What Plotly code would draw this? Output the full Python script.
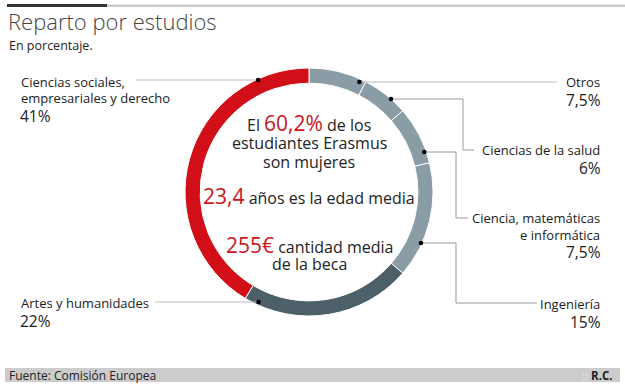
import math
import plotly.graph_objects as go

# ---- data ----
categories = ["Otros", "Ciencias de la salud", "Ciencia, matemáticas e informática",
              "Ingeniería", "Artes y humanidades", "Ciencias sociales, empresariales y derecho"]
values = [7.5, 6, 7.5, 15, 22, 41]
value_labels = ["7,5%", "6%", "7,5%", "15%", "22%", "41%"]
slice_colors = ["#8a9ca6", "#8a9ca6", "#8a9ca6", "#8a9ca6", "#4d5f69", "#d20f18"]

title = "Reparto por estudios"
subtitle = "En porcentaje."
source = "Fuente: Comisión Europea"
author = "R.C."

W, H = 625, 388
CX, CY, R = 309, 192, 124
HOLE = 0.878
FONT = "Open Sans"
RED = "#c8161d"
TXT = "#222222"

fig = go.Figure()
fig.add_trace(go.Pie(
    labels=categories, values=values, sort=False, direction="clockwise", rotation=0,
    hole=HOLE, textinfo="none", hoverinfo="label+percent",
    marker=dict(colors=slice_colors, line=dict(color="white", width=1)),
    domain=dict(x=[(CX - R) / W, (CX + R) / W], y=[(H - CY - R) / H, (H - CY + R) / H]),
    showlegend=False,
))
# invisible axis in pixel units for leaders
fig.add_trace(go.Scatter(x=[0, W], y=[0, H], mode="markers", marker=dict(opacity=0),
                         hoverinfo="skip", showlegend=False))

shapes = []
annotations = []

def line(x0, y0, x1, y1, color):
    shapes.append(dict(type="line", xref="x", yref="y", x0=x0, y0=y0, x1=x1, y1=y1,
                       line=dict(color=color, width=1), layer="above"))

def dot(x, y):
    shapes.append(dict(type="circle", xref="x", yref="y", x0=x - 2.3, y0=y - 2.3,
                       x1=x + 2.3, y1=y + 2.3, fillcolor="black", line=dict(width=0),
                       layer="above"))

def text(x, y, t, size=13, anchor="left", color=TXT, weight=None):
    f = dict(family=FONT, size=size, color=color)
    if weight:
        f["weight"] = weight
    annotations.append(dict(x=x, y=y, xref="x", yref="y", text=t, showarrow=False,
                            xanchor=anchor, yanchor="middle", font=f))

def ring_x(y, side, rd=121):
    dy = y - CY
    return CX + side * math.sqrt(max(rd * rd - dy * dy, 0))

LEFT_LINE = "#bbbbbb"
RIGHT_LINE = "#999999"

# Ciencias sociales (left, top)
y = 80
dx = ring_x(y, -1, 123)
line(136, y, dx, y, LEFT_LINE); dot(dx, y)
text(19, 82, "Ciencias sociales,")
text(19, 98, "empresariales y derecho")
text(18, 116, value_labels[5], size=15.5)

# Artes (left, bottom)
y = 302
dx = ring_x(y, -1)
line(155, y, dx, y, LEFT_LINE); dot(dx, y)
text(19, 303, "Artes y humanidades")
text(18, 321, value_labels[4], size=15.5)

# Otros
y = 82
dx = ring_x(y, 1)
line(dx, y, 557, y, "#bbbbbb"); dot(dx, y)
text(602, 82, "Otros", anchor="right")
text(603, 100, value_labels[0], size=15.5, anchor="right")

# Ciencias de la salud
y = 99
dx = ring_x(y, 1, 124)
line(dx, y, 463, y, RIGHT_LINE); line(463, y, 463, 150, RIGHT_LINE); line(463, 150, 474, 150, RIGHT_LINE)
dot(dx, y)
text(602, 150, "Ciencias de la salud", anchor="right")
text(603, 168, value_labels[1], size=15.5, anchor="right")

# Ciencia, matemáticas
y = 152
dx = ring_x(y, 1, 122)
line(dx, y, 456, y, RIGHT_LINE); line(456, y, 456, 218, RIGHT_LINE); line(456, 218, 468, 218, RIGHT_LINE)
dot(dx, y)
text(602, 218, "Ciencia, matemáticas", anchor="right")
text(602, 235, "e informática", anchor="right")
text(603, 252, value_labels[2], size=15.5, anchor="right")

# Ingeniería
y = 243
dx = ring_x(y, 1, 123)
line(dx, y, 456, y, RIGHT_LINE); line(456, y, 456, 303, RIGHT_LINE); line(456, 303, 537, 303, RIGHT_LINE)
dot(dx, y)
text(602, 304, "Ingeniería", anchor="right")
text(603, 322, value_labels[3], size=15.5, anchor="right")

# centre text
TX = 309
def red(s):
    return f"<span style='color:{RED};font-size:21px'>{s}</span>"
text(TX, 123, f"El {red('60,2%')} de los", size=16, anchor="center")
text(TX, 143, "estudiantes Erasmus", size=16, anchor="center")
text(TX, 162, "son mujeres", size=16, anchor="center")
text(TX, 196, f"{red('23,4')} años es la edad media", size=16, anchor="center")
text(TX, 245, f"{red('255€')} cantidad media", size=16, anchor="center")
text(TX, 264, "de la beca", size=16, anchor="center")

# header
shapes.append(dict(type="rect", xref="x", yref="y", x0=107, y0=4.5, x1=625, y1=7,
                   fillcolor="#cccccc", line=dict(width=0)))
shapes.append(dict(type="rect", xref="x", yref="y", x0=7, y0=4, x1=107, y1=7,
                   fillcolor="#333333", line=dict(width=0)))
text(6, 21, title, size=22, color="#444444", weight=300)
text(7, 45, subtitle, size=12.5)

# footer
shapes.append(dict(type="rect", xref="x", yref="y", x0=5, y0=368, x1=620, y1=382,
                   fillcolor="#cccccc", line=dict(width=0), layer="below"))
text(7, 375, source, size=12)
text(615, 375, "<span style='color:#eeeeee'>::</span> <b>" + author + "</b>", size=11.5,
     anchor="right")

fig.update_layout(
    width=W, height=H, margin=dict(l=0, r=0, t=0, b=0),
    paper_bgcolor="white", plot_bgcolor="white",
    xaxis=dict(range=[0, W], visible=False, fixedrange=True),
    yaxis=dict(range=[H, 0], visible=False, fixedrange=True),
    shapes=shapes, annotations=annotations,
)
fig.write_html("out.html", config={"displayModeBar": False},
               post_script="document.body.style.margin='0px';document.body.style.padding='0px';")
